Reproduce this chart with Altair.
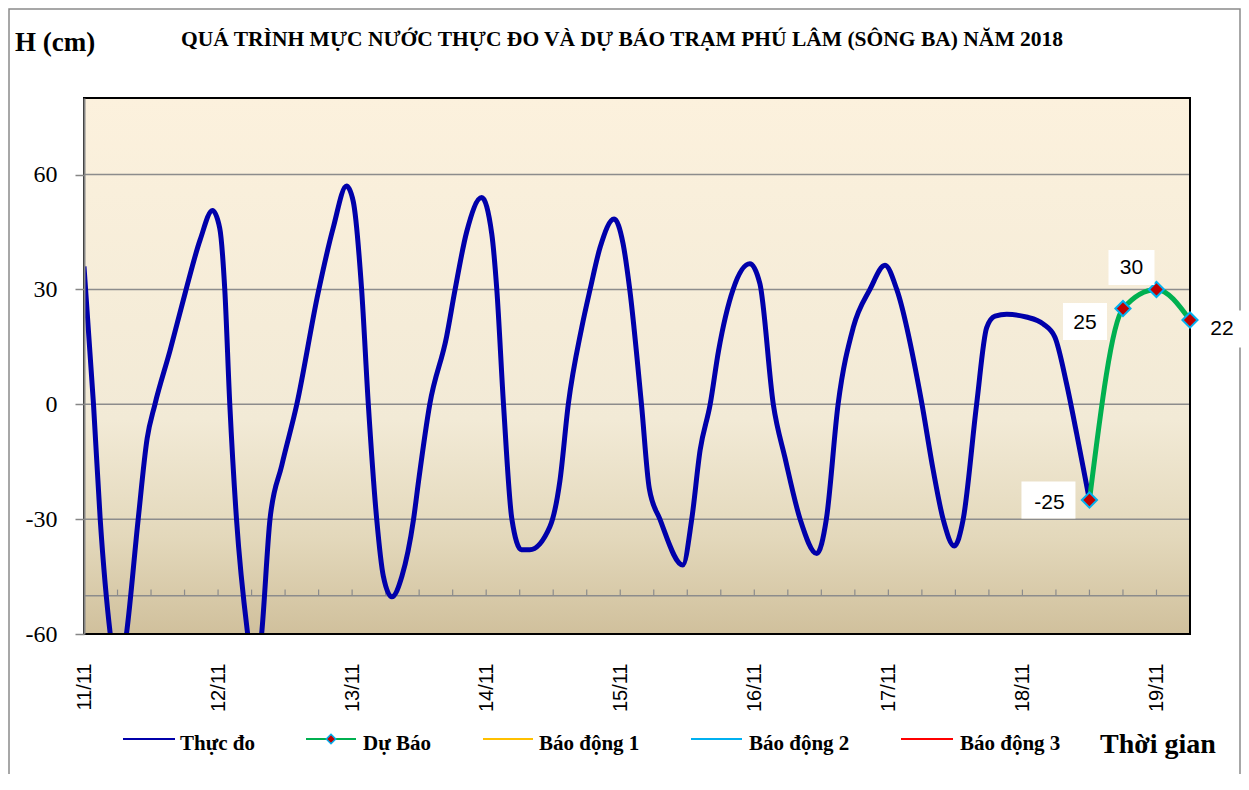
import altair as alt
import pandas as pd

# ---------------- data ----------------
day_labels = ["11/11", "12/11", "13/11", "14/11", "15/11", "16/11", "17/11", "18/11", "19/11"]

# observed water level (hours since 11/11 00h, cm)
obs_hours = [0, 1.7, 2.9, 4.7, 6.1, 7.6, 9.7, 11.3, 12.7, 15.4, 18.1, 20.8, 23.0, 24.3, 25.2,
             26.1, 27.3, 29.3, 30.6, 31.8, 33.3, 35.4, 38.1, 41.9, 44.6, 47.0, 48.2, 49.7,
             50.9, 52.4, 53.6, 55.1, 56.9, 59.0, 59.9, 61.9, 64.9, 66.4, 68.5, 71.2, 73.0,
             73.9, 75.1, 76.6, 78.3, 79.8, 83.4, 85.2, 86.7, 89.1, 90.6, 92.4, 94.9, 96.5,
             97.7, 99.8, 101.2, 103.1, 107.2, 108.8, 110.3, 112.1, 113.6, 116.2, 119.2,
             121.0, 123.4, 125.5, 128.2, 131.2, 132.9, 135.0, 137.7, 140.7, 143.4, 145.5,
             149.9, 152.0, 153.8, 155.8, 157.4, 159.8, 161.6, 163.1, 165.2, 168.7, 171.7,
             173.8, 175.9, 177.7, 180.0]
obs_levels = [36, 0, -30, -60, -73, -60, -30, -9, 0, 14, 29, 43, 50.6, 46, 30,
              0, -30, -60, -73, -60, -30, -16, 0, 29, 46, 57, 53, 30,
              0, -30, -45, -50.3, -45, -30, -20, 0, 17.6, 29.7, 45, 54, 44.5,
              30, 0, -30, -38, -38, -32, -20, 0, 20, 30, 41, 48.4, 42,
              30, 0, -22, -30, -42, -30, -12, 0, 14, 30, 36.7,
              31.5, 0, -14, -30, -39, -30, 0, 20, 30, 36.3, 30,
              1, -17, -30, -37, -30, 0, 20, 23, 23.5, 22.8, 21,
              17.6, 5.4, -7.6, -25]

# forecast
fc_hours = [180, 186, 192, 198]
fc_levels = [-25, 25, 30, 22]

legend_names = ["Thực đo", "Dự Báo", "Báo động 1", "Báo động 2", "Báo động 3"]
legend_colors = ["#0000AA", "#00B050", "#FFC000", "#00B0F0", "#FF0000"]

axis_levels = [-60, -30, 0, 30, 60]
grid_levels = [-30, 0, 30, 60]
x_axis_level = -50
tick_hours = list(range(0, 199, 6))

title_text = "QUÁ TRÌNH MỰC NƯỚC THỰC ĐO VÀ DỰ BÁO TRẠM PHÚ LÂM (SÔNG BA) NĂM 2018"

# ---------------- layout ----------------
W, H = 1106, 536
x_scale = alt.Scale(domain=[0, 198], nice=False, zero=False)
y_scale = alt.Scale(domain=[-60, 80], nice=False, zero=False)

label_expr = "[" + ",".join(f"'{d}'" for d in day_labels) + "][round(datum.value / 24)]"
x_axis = alt.Axis(values=list(range(0, 193, 24)), labelExpr=label_expr, labelAngle=-90,
                  grid=False, ticks=False, tickSize=0, domain=False, title=None,
                  labelFont="Liberation Sans", labelFontSize=20, labelColor="black",
                  labelPadding=29)
y_axis = alt.Axis(values=axis_levels, labelExpr="datum.value + ''", grid=False, title=None,
                  domainColor="#868686", domainWidth=2, tickColor="#868686", tickWidth=1.5,
                  tickSize=9, labelFont="Liberation Serif", labelFontSize=24, labelColor="black",
                  labelPadding=18, zindex=1)

X = lambda: alt.X("h:Q", scale=x_scale, axis=x_axis)
Y = lambda: alt.Y("v:Q", scale=y_scale, axis=y_axis)

one = pd.DataFrame({"k": [0]})
obs_df = pd.DataFrame({"h": obs_hours, "v": obs_levels})
fc_df = pd.DataFrame({"h": fc_hours, "v": fc_levels})
grid_df = pd.DataFrame({"v": grid_levels})
tick_df = pd.DataFrame({"h": tick_hours})

layers = []

# outer chart frame
layers.append(alt.Chart(one).mark_rect(filled=False, stroke="#8a8a8a", strokeWidth=1.5).encode(
    x=alt.value(-75), x2=alt.value(1156), y=alt.value(-89), y2=alt.value(720)))

# gradient background of plot area
grad = alt.Gradient(gradient="linear", x1=0, x2=0, y1=0, y2=1, stops=[
    alt.GradientStop(color="#FCF1DD", offset=0),
    alt.GradientStop(color="#F2EAD6", offset=0.6),
    alt.GradientStop(color="#E3D8BB", offset=0.82),
    alt.GradientStop(color="#D0C09C", offset=1)])
layers.append(alt.Chart(one).mark_rect(color=grad).encode(
    x=alt.value(0), x2=alt.value(W), y=alt.value(0), y2=alt.value(H)))

# gridlines
layers.append(alt.Chart(grid_df).mark_rule(color="#8C8C8C", strokeWidth=1.5).encode(y=Y()))

# category axis line crossing at -50 with tick marks
layers.append(alt.Chart(one).mark_rule(color="#8C8C8C", strokeWidth=1.5).encode(
    y=alt.Y(datum=x_axis_level, scale=y_scale, axis=y_axis)))
layers.append(alt.Chart(tick_df).mark_rule(color="#8C8C8C", strokeWidth=1.2).encode(
    x=X(), y=alt.Y(datum=x_axis_level, scale=y_scale, axis=y_axis),
    y2=alt.datum(x_axis_level + 1.6)))

# observed series
layers.append(alt.Chart(obs_df).mark_line(color="#0000AA", strokeWidth=5, interpolate="monotone",
                                         clip=True).encode(x=X(), y=Y()))

# plot border
layers.append(alt.Chart(one).mark_rect(filled=False, stroke="black", strokeWidth=2).encode(
    x=alt.value(0), x2=alt.value(W), y=alt.value(0), y2=alt.value(H)))

# forecast series
layers.append(alt.Chart(fc_df).mark_line(color="#00B050", strokeWidth=5,
                                        interpolate="monotone").encode(x=X(), y=Y()))
layers.append(alt.Chart(fc_df).mark_point(shape="diamond", size=230, filled=True, fill="#C00000",
                                         stroke="#00B0F0", strokeWidth=2, opacity=1).encode(x=X(), y=Y()))

# forecast labels (box offset dx, dy, box w, h, text dx, dy)
label_style = [(-41, 0, 54, 37, -40, 3), (-38, 13, 44, 37, -38, 14),
               (-25, -22, 46, 35, -25, -21), (32, 9, 44, 37, 32, 9)]
for i, (bx, by, bw, bh, tx, ty) in enumerate(label_style):
    sub = fc_df.iloc[[i]]
    layers.append(alt.Chart(sub).mark_rect(color="white", width=bw, height=bh,
                                           xOffset=bx, yOffset=by).encode(x=X(), y=Y()))
    layers.append(alt.Chart(sub).transform_calculate(lab="datum.v + ''").mark_text(
        font="Liberation Sans", fontSize=21, color="black",
        align="center", baseline="middle", dx=tx, dy=ty).encode(
        x=X(), y=Y(), text=alt.Text("lab:N")))

# titles
layers.append(alt.Chart(one).mark_text(font="Liberation Serif", fontWeight="bold", fontSize=21.5,
                                       align="center", baseline="alphabetic", color="black").encode(
    x=alt.value(538), y=alt.value(-52), text=alt.value(title_text)))
layers.append(alt.Chart(one).mark_text(font="Liberation Serif", fontWeight="bold", fontSize=27,
                                       align="left", baseline="alphabetic", color="black").encode(
    x=alt.value(-69), y=alt.value(-47), text=alt.value("H (cm)")))
layers.append(alt.Chart(one).mark_text(font="Liberation Serif", fontWeight="bold", fontSize=28,
                                       align="left", baseline="alphabetic", color="black").encode(
    x=alt.value(1016), y=alt.value(655), text=alt.value("Thời gian")))

# legend
legend_line_x = [(39, 91), (222, 272), (399, 449), (607, 658), (817, 869)]
legend_text_x = [96, 279, 455, 665, 876]
for name, col, (l0, l1), tx in zip(legend_names, legend_colors, legend_line_x, legend_text_x):
    layers.append(alt.Chart(one).mark_rule(color=col, strokeWidth=2).encode(
        x=alt.value(l0), x2=alt.value(l1), y=alt.value(641)))
    layers.append(alt.Chart(one).mark_text(font="Liberation Serif", fontWeight="bold", fontSize=21,
                                           align="left", baseline="alphabetic", color="black").encode(
        x=alt.value(tx), y=alt.value(652), text=alt.value(name)))
    if name == "Dự Báo":
        layers.append(alt.Chart(one).mark_point(shape="diamond", size=90, filled=True, fill="#C00000",
                                               stroke="#00B0F0", strokeWidth=1.5, opacity=1).encode(
            x=alt.value((l0 + l1) / 2), y=alt.value(641)))

chart = alt.layer(*layers).properties(
    width=W, height=H,
    autosize=alt.AutoSizeParams(type="none"),
    padding={"left": 76, "top": 90, "right": 51, "bottom": 140},
).configure_view(stroke="transparent")

chart.save("out.html", embed_options={"renderer": "svg", "actions": False})
